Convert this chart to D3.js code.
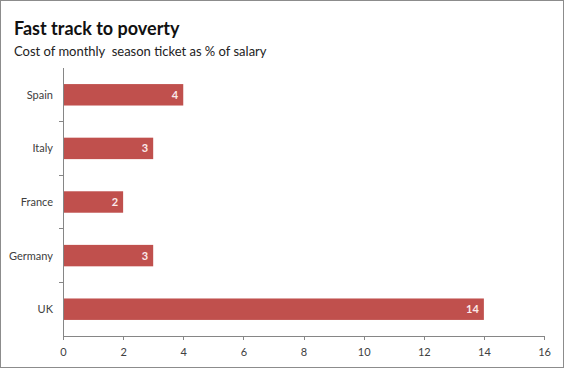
<!DOCTYPE html>
<html lang="en">
<head>
  <meta charset="UTF-8" />
  <title>Fast track to poverty</title>
  <script src="https://d3js.org/d3.v7.min.js"></script>
  <style>
    body { margin: 0; background: #fff; font-family: Lato, "Open Sans", sans-serif; }
    .axis path, .axis line { stroke: #868686; shape-rendering: crispEdges; }
    .axis text { fill: #404040; font-size: 11px; font-family: Lato, sans-serif; }
  </style>
</head>
<body>
  <svg width="564" height="368"></svg>

  <script>
    const countries = ["Spain", "Italy", "France", "Germany", "UK"];
    const values = [4, 3, 2, 3, 14];
    const xTicks = [0, 2, 4, 6, 8, 10, 12, 14, 16];

    const svg = d3.select("svg");
    const width = +svg.attr("width");
    const height = +svg.attr("height");
    const margin = { top: 68, right: 20, bottom: 32, left: 63 };

    // frame
    svg.append("rect")
      .attr("x", 0.5).attr("y", 0.5)
      .attr("width", width - 1).attr("height", height - 1)
      .attr("fill", "#fff").attr("stroke", "#8c8c8c");

    svg.append("text")
      .attr("x", 14).attr("y", 35)
      .attr("font-size", 18).attr("font-weight", "bold").attr("fill", "#111")
      .text("Fast track to poverty");

    svg.append("text")
      .attr("x", 14).attr("y", 56)
      .attr("font-size", 13).attr("fill", "#222")
      .style("white-space", "pre")
      .text("Cost of monthly  season ticket as % of salary");

    const x = d3.scaleLinear()
      .domain([0, 16])
      .range([margin.left, width - margin.right]);

    const y = d3.scaleBand()
      .domain(countries)
      .range([margin.top, height - margin.bottom])
      .paddingInner(0.6).paddingOuter(0.3);

    svg.selectAll("rect.bar")
      .data(countries)
      .join("rect")
      .attr("class", "bar")
      .attr("x", x(0))
      .attr("y", d => y(d))
      .attr("width", (d, i) => x(values[i]) - x(0))
      .attr("height", y.bandwidth())
      .attr("fill", "#c0504d");

    svg.selectAll("text.val")
      .data(countries)
      .join("text")
      .attr("class", "val")
      .attr("x", (d, i) => x(values[i]) - 5)
      .attr("y", d => y(d) + y.bandwidth() / 2)
      .attr("dy", "0.36em")
      .attr("text-anchor", "end")
      .attr("font-size", 11).attr("font-weight", "bold")
      .attr("fill", "#fbeaea")
      .text((d, i) => values[i]);

    // x axis
    svg.append("g")
      .attr("class", "axis")
      .attr("transform", `translate(0,${height - margin.bottom})`)
      .call(d3.axisBottom(x).tickValues(xTicks).tickSize(4).tickSizeOuter(0).tickPadding(8));

    // y axis with ticks at category boundaries
    const yAxis = svg.append("g")
      .attr("class", "axis")
      .attr("transform", `translate(${margin.left},0)`);
    yAxis.append("line")
      .attr("x1", 0).attr("x2", 0)
      .attr("y1", margin.top).attr("y2", height - margin.bottom);
    const step = y.step();
    yAxis.selectAll("line.tick")
      .data(countries.slice(1))
      .join("line")
      .attr("class", "tick")
      .attr("x1", -4).attr("x2", 0)
      .attr("y1", d => y(d) - step * 0.3)
      .attr("y2", d => y(d) - step * 0.3);
    yAxis.selectAll("text")
      .data(countries)
      .join("text")
      .attr("x", -10)
      .attr("y", d => y(d) + y.bandwidth() / 2)
      .attr("dy", "0.36em")
      .attr("text-anchor", "end")
      .text(d => d);
  </script>
</body>
</html>
